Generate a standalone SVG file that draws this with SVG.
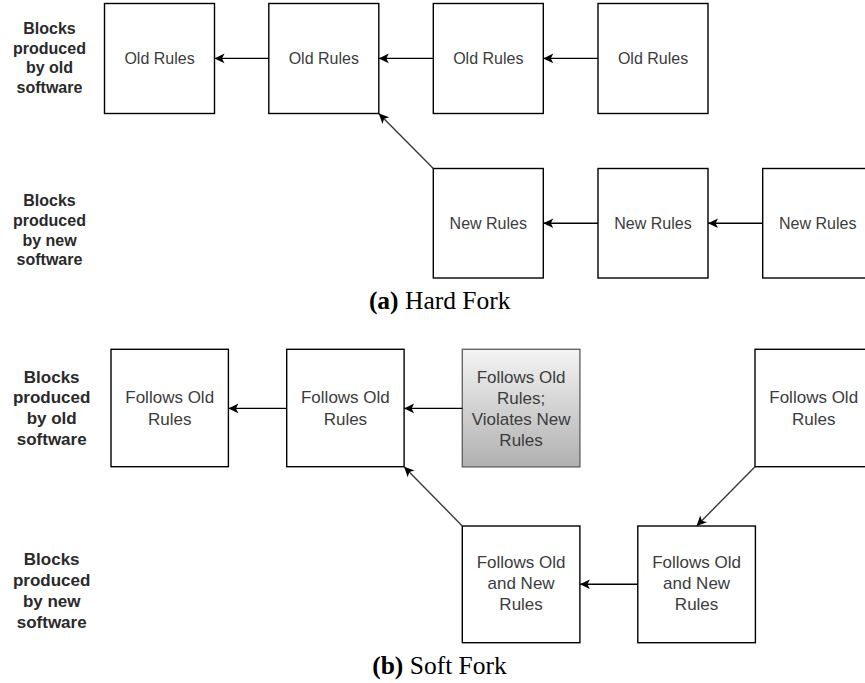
<svg xmlns="http://www.w3.org/2000/svg" width="865" height="683" viewBox="0 0 865 683">
  <style>
    .box { fill: #ffffff; stroke: #000000; stroke-width: 1.4; }
    .shaded { fill: url(#greyFill); stroke: #666666; stroke-width: 1.4; }
    .node { font-family: "Liberation Sans", Arial, sans-serif; fill: #3c3c3c; text-anchor: middle; }
    .hard { font-size: 16px; }
    .soft { font-size: 17px; }
    .side { font-family: "Liberation Sans", Arial, sans-serif; font-weight: bold; fill: #2a2a2a; text-anchor: middle; }
    .edge { fill: none; stroke: #000000; stroke-width: 1.4; marker-end: url(#arrow); }
    .diag { fill: none; stroke: #3a3a3a; stroke-width: 1.4; marker-end: url(#arrow); }
    .caption { font-family: "Liberation Serif", "Times New Roman", serif; font-size: 25.5px; fill: #000000; text-anchor: middle; }
  </style>
  <defs>
    <linearGradient id="greyFill" x1="0" y1="0" x2="0" y2="1">
      <stop offset="0" stop-color="#f4f4f4"/>
      <stop offset="1" stop-color="#b0b0b0"/>
    </linearGradient>
    <marker id="arrow" markerUnits="userSpaceOnUse" viewBox="-12 -7 14 14" refX="0" refY="0" markerWidth="14" markerHeight="14" orient="auto">
      <path d="M -10,-4.8 L 0,0 L -10,4.8 L -7.5,0 Z" fill="#000000"/>
    </marker>
  </defs>

  <rect width="865" height="683" fill="#ffffff"/>

  <!-- (a) Hard fork -->
  <g id="hard-label-old">
    <text class="side hard" x="49.5" y="34">Blocks</text>
    <text class="side hard" x="49.5" y="53.5">produced</text>
    <text class="side hard" x="49.5" y="73">by old</text>
    <text class="side hard" x="49.5" y="92.5">software</text>
  </g>
  <g id="hard-label-new">
    <text class="side hard" x="49.5" y="206">Blocks</text>
    <text class="side hard" x="49.5" y="226">produced</text>
    <text class="side hard" x="49.5" y="245.5">by new</text>
    <text class="side hard" x="49.5" y="265">software</text>
  </g>

  <g id="hard-old-1">
    <rect class="box" x="104.5" y="3.5" width="110" height="110"/>
    <text class="node hard" x="159.5" y="64">Old Rules</text>
  </g>
  <g id="hard-old-2">
    <rect class="box" x="268.8" y="3.5" width="110" height="110"/>
    <text class="node hard" x="323.8" y="64">Old Rules</text>
  </g>
  <g id="hard-old-3">
    <rect class="box" x="433.3" y="3.5" width="110" height="110"/>
    <text class="node hard" x="488.3" y="64">Old Rules</text>
  </g>
  <g id="hard-old-4">
    <rect class="box" x="598" y="3.5" width="110" height="110"/>
    <text class="node hard" x="653" y="64">Old Rules</text>
  </g>

  <g id="hard-new-1">
    <rect class="box" x="433.3" y="168.5" width="110" height="109.5"/>
    <text class="node hard" x="488.3" y="229">New Rules</text>
  </g>
  <g id="hard-new-2">
    <rect class="box" x="598" y="168.5" width="110" height="109.5"/>
    <text class="node hard" x="653" y="229">New Rules</text>
  </g>
  <g id="hard-new-3">
    <rect class="box" x="762.7" y="168.5" width="110" height="109.5"/>
    <text class="node hard" x="817.7" y="229">New Rules</text>
  </g>

  <text class="caption" x="439.7" y="308.5"><tspan font-weight="bold">(a)</tspan> Hard Fork</text>

  <!-- (b) Soft fork -->
  <g id="soft-label-old">
    <text class="side soft" x="51.7" y="382.7">Blocks</text>
    <text class="side soft" x="51.7" y="403.4">produced</text>
    <text class="side soft" x="51.7" y="424.2">by old</text>
    <text class="side soft" x="51.7" y="445">software</text>
  </g>
  <g id="soft-label-new">
    <text class="side soft" x="51.7" y="565">Blocks</text>
    <text class="side soft" x="51.7" y="586.2">produced</text>
    <text class="side soft" x="51.7" y="607.3">by new</text>
    <text class="side soft" x="51.7" y="628.3">software</text>
  </g>

  <g id="soft-old-1">
    <rect class="box" x="111" y="349.3" width="117.4" height="117.4"/>
    <text class="node soft" x="169.7" y="403.4">Follows Old</text>
    <text class="node soft" x="169.7" y="424.6">Rules</text>
  </g>
  <g id="soft-old-2">
    <rect class="box" x="286.7" y="349.3" width="117.4" height="117.4"/>
    <text class="node soft" x="345.4" y="403.4">Follows Old</text>
    <text class="node soft" x="345.4" y="424.6">Rules</text>
  </g>
  <g id="soft-invalid">
    <rect class="shaded" x="462.3" y="349.3" width="117.6" height="117.6"/>
    <text class="node soft" x="521.1" y="383.3">Follows Old</text>
    <text class="node soft" x="521.1" y="404.2">Rules;</text>
    <text class="node soft" x="521.1" y="425">Violates New</text>
    <text class="node soft" x="521.1" y="445.8">Rules</text>
  </g>
  <g id="soft-old-3">
    <rect class="box" x="755" y="349.3" width="117.4" height="117.4"/>
    <text class="node soft" x="813.7" y="403.4">Follows Old</text>
    <text class="node soft" x="813.7" y="424.6">Rules</text>
  </g>

  <g id="soft-both-1">
    <rect class="box" x="462.3" y="526" width="117.6" height="116.7"/>
    <text class="node soft" x="521.1" y="568.3">Follows Old</text>
    <text class="node soft" x="521.1" y="589.1">and New</text>
    <text class="node soft" x="521.1" y="610">Rules</text>
  </g>
  <g id="soft-both-2">
    <rect class="box" x="637.8" y="526" width="117.6" height="116.7"/>
    <text class="node soft" x="696.6" y="568.3">Follows Old</text>
    <text class="node soft" x="696.6" y="589.1">and New</text>
    <text class="node soft" x="696.6" y="610">Rules</text>
  </g>

  <text class="caption" x="439.5" y="674.3"><tspan font-weight="bold">(b)</tspan> Soft Fork</text>

  <!-- connectors: each block points back to its parent -->
  <g id="connectors">
    <line class="edge" x1="268.8" y1="58.4" x2="214.5" y2="58.4"/>
    <line class="edge" x1="433.3" y1="58.4" x2="378.8" y2="58.4"/>
    <line class="edge" x1="598" y1="58.4" x2="543.3" y2="58.4"/>
    <line class="edge" x1="598" y1="223.3" x2="543.3" y2="223.3"/>
    <line class="edge" x1="762.7" y1="223.3" x2="708" y2="223.3"/>
    <line class="diag" x1="433.3" y1="168.5" x2="378.8" y2="113.5"/>

    <line class="edge" x1="286.7" y1="408.4" x2="228.4" y2="408.4"/>
    <line class="edge" x1="462.3" y1="408.4" x2="404.1" y2="408.4"/>
    <line class="edge" x1="637.8" y1="584.3" x2="579.9" y2="584.3"/>
    <line class="diag" x1="462.3" y1="526" x2="404.1" y2="466.7"/>
    <line class="diag" x1="755" y1="466.7" x2="696.6" y2="526"/>
  </g>
</svg>
